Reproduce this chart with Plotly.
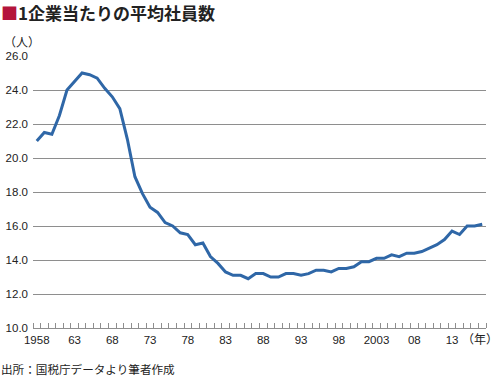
import plotly.graph_objects as go

years = list(range(1958, 2018))
employees = [
    21.0, 21.5, 21.4, 22.5, 24.0, 24.5, 25.0, 24.9, 24.7, 24.1,
    23.6, 22.9, 21.1, 18.9, 17.9, 17.1, 16.8, 16.2, 16.0, 15.6,
    15.5, 14.9, 15.0, 14.2, 13.8, 13.3, 13.1, 13.1, 12.9, 13.2,
    13.2, 13.0, 13.0, 13.2, 13.2, 13.1, 13.2, 13.4, 13.4, 13.3,
    13.5, 13.5, 13.6, 13.9, 13.9, 14.1, 14.1, 14.3, 14.2, 14.4,
    14.4, 14.5, 14.7, 14.9, 15.2, 15.7, 15.5, 16.0, 16.0, 16.1,
]
label_years = [1958, 1963, 1968, 1973, 1978, 1983, 1988, 1993, 1998, 2003, 2008, 2013]
label_text = ["1958", "63", "68", "73", "78", "83", "88", "93", "98", "2003", "08", "13"]
y_ticks = [10, 12, 14, 16, 18, 20, 22, 24, 26]

title = '<span style="color:#b4143c">■</span>1企業当たりの平均社員数'
unit_y = "（人）"
unit_x = "（年）"
source = "出所：国税庁データより筆者作成"

num_font = "Liberation Sans, Arial, sans-serif"
cjk_font = "Noto Sans CJK JP, Noto Sans CJK SC, sans-serif"
grid = "#8e8e8e"

fig = go.Figure()
fig.add_trace(go.Scatter(
    x=years, y=employees, mode="lines",
    line=dict(color="#2f67a7", width=3),
    hoverinfo="skip", showlegend=False,
))

fig.update_layout(
    width=500, height=376,
    margin=dict(l=33, r=14, t=56, b=48),
    paper_bgcolor="white", plot_bgcolor="white",
    font=dict(family=num_font, size=12, color="#222222"),
    xaxis=dict(
        range=[1957.5, 2017.5], automargin=False,
        tickmode="array", tickvals=label_years, ticktext=label_text,
        ticks="", showgrid=False, zeroline=False,
        showline=True, linecolor=grid, linewidth=1,
        tickfont=dict(family=num_font, size=11.5, color="#222222"),
        ticklabelstandoff=1,
        minor=dict(tick0=1957.5, dtick=1, ticks="inside", ticklen=5,
                   tickcolor=grid, tickwidth=1, showgrid=False),
    ),
    yaxis=dict(
        range=[10, 26], tickmode="array", tickvals=y_ticks, automargin=False,
        tickformat=".1f", ticks="", showgrid=True, gridcolor=grid,
        gridwidth=1, zeroline=False, showline=False,
        tickfont=dict(family=num_font, size=11.5, color="#222222"),
        ticklabelstandoff=4,
    ),
    annotations=[
        dict(text=title, x=0, y=1, xref="paper", yref="paper", xanchor="left",
             yanchor="top", showarrow=False, xshift=-34, yshift=58,
             font=dict(family=cjk_font, size=17, color="#222222", weight="bold")),
        dict(text=unit_y, x=0, y=1, xref="paper", yref="paper", xanchor="left",
             yanchor="middle", showarrow=False, xshift=-31, yshift=15,
             font=dict(family=cjk_font, size=12, color="#222222")),
        dict(text=unit_x, x=1, y=0, xref="paper", yref="paper", xanchor="right",
             yanchor="middle", showarrow=False, xshift=14, yshift=-10,
             font=dict(family=cjk_font, size=12, color="#222222")),
        dict(text=source, x=0, y=0, xref="paper", yref="paper", xanchor="left",
             yanchor="middle", showarrow=False, xshift=-34, yshift=-41,
             font=dict(family=cjk_font, size=11.6, color="#222222")),
    ],
)

fig.write_html("out.html", config={"displayModeBar": False},
               post_script="document.body.style.margin='0';")
